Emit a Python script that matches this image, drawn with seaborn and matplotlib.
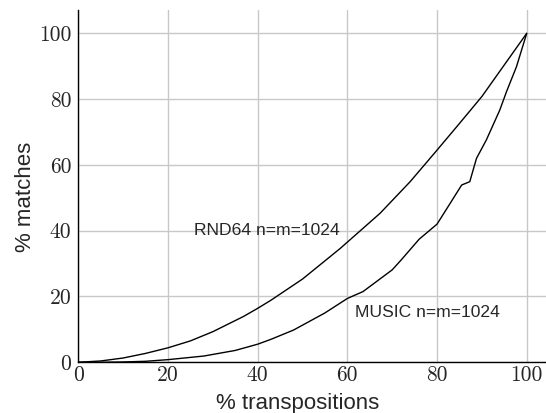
import matplotlib
matplotlib.use("Agg")
import matplotlib.pyplot as plt
import seaborn as sns
import pandas as pd

rnd_x = [0, 5, 10, 15, 20, 25, 30, 36.8, 40, 43, 50, 58.4, 67.3, 74, 80, 85, 90, 100]
rnd_y = [0, 0.4, 1.3, 2.7, 4.4, 6.5, 9.3, 13.9, 16.4, 18.9, 25.3, 34.6, 45.3, 54.9,
         64.5, 72.6, 80.8, 100]

music_x = [0, 5, 10, 15, 20, 28, 35, 40, 43, 48, 55, 60, 63.5, 70, 72, 76, 80,
           82.5, 85.5, 87.3, 88.8, 91, 94, 95.5, 97.7, 100]
music_y = [0, 0, 0.1, 0.3, 0.8, 1.9, 3.6, 5.5, 7, 9.8, 15, 19.4, 21.5, 28.1, 31.1,
           37.4, 42, 47.4, 53.9, 54.9, 62, 67.6, 76.7, 82.3, 89.8, 100]

x_ticks = [0, 20, 40, 60, 80, 100]
y_ticks = [0, 20, 40, 60, 80, 100]
labels = ["RND64 n=m=1024", "MUSIC n=m=1024"]

df = pd.concat([
    pd.DataFrame({"x": rnd_x, "y": rnd_y, "series": labels[0]}),
    pd.DataFrame({"x": music_x, "y": music_y, "series": labels[1]}),
])

sns.set_style("whitegrid")
plt.rcParams["font.family"] = ["Liberation Sans", "DejaVu Sans"]

fig = plt.figure(figsize=(5.46, 4.13), dpi=100)
ax = fig.add_axes([0.1434, 0.1228, 1 - 0.1434, 0.9758 - 0.1228])

sns.lineplot(data=df, x="x", y="y", hue="series", palette=["black", "black"],
             linewidth=1.0, legend=False, ax=ax, sort=False)

ax.set_xlim(0, 104.3)
ax.set_ylim(0, 107.1)
ax.set_xticks(x_ticks)
ax.set_yticks(y_ticks)
ax.set_xticklabels([str(v) for v in x_ticks], fontfamily="cmr10", fontsize=15.5)
ax.set_yticklabels([str(v) for v in y_ticks], fontfamily="cmr10", fontsize=15.5)
ax.tick_params(axis="x", length=0, pad=2)
ax.tick_params(axis="y", length=0, pad=5)
ax.grid(True, color="#c8c8c8", linewidth=1.0)
for s in ["top", "right"]:
    ax.spines[s].set_visible(False)
for s in ["left", "bottom"]:
    ax.spines[s].set_color("black")
    ax.spines[s].set_linewidth(1.0)
ax.set_axisbelow(True)

ax.set_xlabel("% transpositions", fontsize=16, labelpad=6)
ax.set_ylabel("% matches", fontsize=16, labelpad=2.5)
ax.xaxis.label.set_x(0.47)
ax.yaxis.label.set_y(0.47)

ax.text(25.8, 40, labels[0], fontsize=12.6, va="center", ha="left")
ax.text(61.6, 15.1, labels[1], fontsize=12.6, va="center", ha="left")

fig.savefig("out.png", dpi=100)
